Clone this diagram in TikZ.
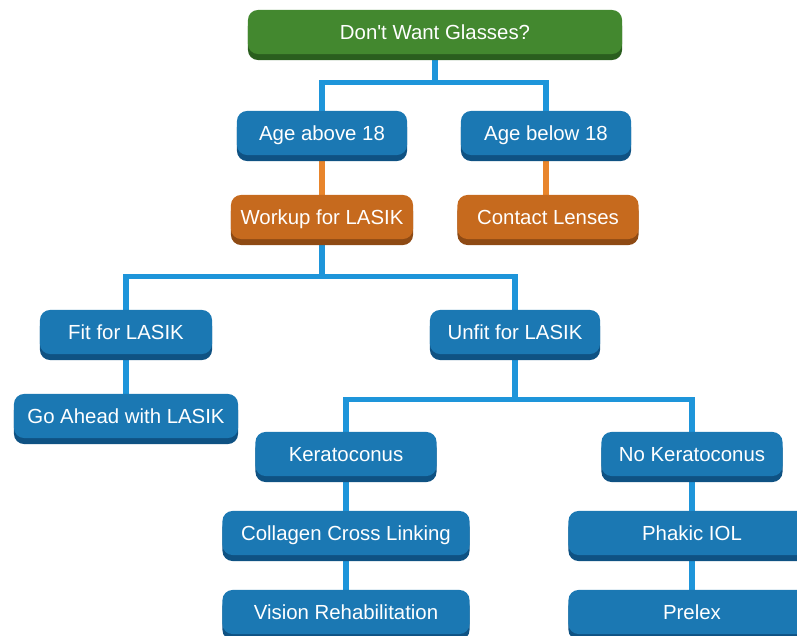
\documentclass[tikz,border=0pt]{standalone}
\usepackage{fontspec}
\setsansfont{Liberation Sans}
\usetikzlibrary{shadows,backgrounds}
\definecolor{boxblue}{HTML}{1B78B3}
\definecolor{boxblueshade}{HTML}{0F5283}
\definecolor{boxgreen}{HTML}{43882F}
\definecolor{boxgreenshade}{HTML}{2A5E1E}
\definecolor{boxorange}{HTML}{C66A1E}
\definecolor{boxorangeshade}{HTML}{8E4A14}
\definecolor{linkblue}{HTML}{1E95DA}
\definecolor{linkorange}{HTML}{E8852C}

\begin{document}
\begin{tikzpicture}[x=0.025cm, y=-0.025cm,
    box/.style={draw=none, rounded corners=0.25cm, minimum height=1.1cm, inner sep=0pt,
      text height=1em, text depth=0pt,
      text=white, font=\sffamily\fontsize{14.5}{17}\selectfont},
    bluebox/.style={box, fill=boxblue,
      drop shadow={shadow xshift=0cm, shadow yshift=-0.15cm, fill=boxblueshade, opacity=1}},
    greenbox/.style={box, fill=boxgreen,
      drop shadow={shadow xshift=0cm, shadow yshift=-0.15cm, fill=boxgreenshade, opacity=1}},
    orangebox/.style={box, fill=boxorange,
      drop shadow={shadow xshift=0cm, shadow yshift=-0.15cm, fill=boxorangeshade, opacity=1}},
    link/.style={draw=linkblue, line width=3.6pt},
    olink/.style={draw=linkorange, line width=3.6pt}]
  \clip (0,0) rectangle (797,636);
  \useasboundingbox (0,0) rectangle (797,636);

  \node[greenbox, minimum width=9.35cm] (want) at (435, 32) {Don\textquotesingle t Want Glasses?};
  \node[bluebox, minimum width=4.25cm] (above) at (322, 133) {Age above 18};
  \node[bluebox, minimum width=4.25cm] (below) at (546, 133) {Age below 18};
  \node[orangebox, minimum width=4.55cm] (workup) at (322, 217) {Workup for LASIK};
  \node[orangebox, minimum width=4.525cm] (contact) at (548, 217) {Contact Lenses};
  \node[bluebox, minimum width=4.3cm] (fit) at (126, 332) {Fit for LASIK};
  \node[bluebox, minimum width=4.25cm] (unfit) at (515, 332) {Unfit for LASIK};
  \node[bluebox, minimum width=5.6cm] (ahead) at (126, 416) {Go Ahead with LASIK};
  \node[bluebox, minimum width=4.525cm] (kerato) at (346, 454) {Keratoconus};
  \node[bluebox, minimum width=4.525cm] (nokerato) at (692, 454) {No Keratoconus};
  \node[bluebox, minimum width=6.175cm] (collagen) at (346, 533) {Collagen Cross Linking};
  \node[bluebox, minimum width=6.175cm] (vision) at (346, 612) {Vision Rehabilitation};
  \node[bluebox, minimum width=6.175cm] (phakic) at (692, 533) {Phakic IOL};
  \node[bluebox, minimum width=6.175cm] (prelex) at (692, 612) {Prelex};

  \begin{pgfonlayer}{background}
    \draw[link] (want.south) -- ++(0,28) -| (above.north);
    \draw[link] (want.south) -- ++(0,28) -| (below.north);
    \draw[olink] (above) -- (workup);
    \draw[olink] (below.south) -- (below.south |- contact.north);
    \draw[link] (workup.south) -- ++(0,37) -| (fit.north);
    \draw[link] (workup.south) -- ++(0,37) -| (unfit.north);
    \draw[link] (fit) -- (ahead);
    \draw[link] (unfit.south) -- ++(0,45) -| (kerato.north);
    \draw[link] (unfit.south) -- ++(0,45) -| (nokerato.north);
    \draw[link] (kerato) -- (collagen);
    \draw[link] (collagen) -- (vision);
    \draw[link] (nokerato) -- (phakic);
    \draw[link] (phakic) -- (prelex);
  \end{pgfonlayer}
\end{tikzpicture}
\end{document}
